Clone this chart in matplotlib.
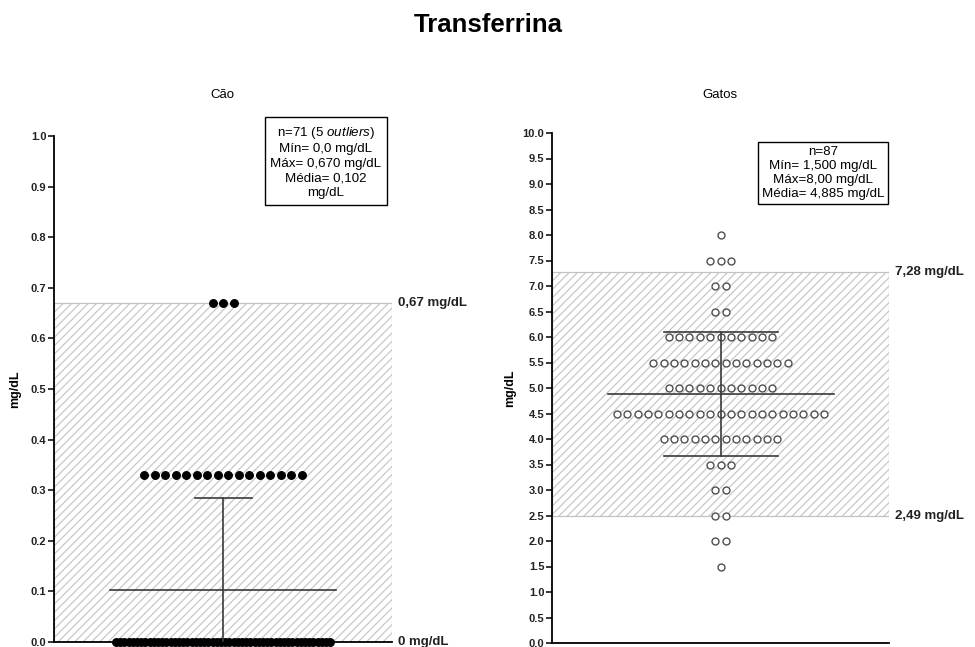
import numpy as np
import matplotlib
matplotlib.use("Agg")
import matplotlib.pyplot as plt

plt.rcParams['font.family'] = ['Liberation Sans', 'DejaVu Sans']
plt.rcParams['mathtext.fontset'] = 'custom'
plt.rcParams['mathtext.it'] = 'Liberation Sans:italic'
plt.rcParams['mathtext.rm'] = 'Liberation Sans'
plt.rcParams['hatch.linewidth'] = 0.8

# ---- data ----
title = "Transferrina"
unit_label = "mg/dL"

dog_name = "Cão"
dog_values = [0.0, 0.33, 0.67]
dog_counts = [52, 16, 3]
dog_ref = [0.0, 0.67]
dog_ref_labels = ["0 mg/dL", "0,67 mg/dL"]
dog_ticks = [round(0.1 * i, 1) for i in range(11)]
dog_box = "n=71 (5 $\\it{outliers}$)\nMín= 0,0 mg/dL\nMáx= 0,670 mg/dL\nMédia= 0,102\nmg/dL"

cat_name = "Gatos"
cat_values = [1.5, 2.0, 2.5, 3.0, 3.5, 4.0, 4.5, 5.0, 5.5, 6.0, 6.5, 7.0, 7.5, 8.0]
cat_counts = [1, 2, 2, 2, 3, 12, 21, 11, 14, 11, 2, 2, 3, 1]
cat_ref = [2.49, 7.28]
cat_ref_labels = ["2,49 mg/dL", "7,28 mg/dL"]
cat_ticks = [0.5 * i for i in range(21)]
cat_box = "n=87\nMín= 1,500 mg/dL\nMáx=8,00 mg/dL\nMédia= 4,885 mg/dL"

W, H = 975, 647
fig = plt.figure(figsize=(W / 100, H / 100), dpi=100)


def ax_at(x0, y0, x1, y1):
    return fig.add_axes([x0 / W, 1 - y1 / H, (x1 - x0) / W, (y1 - y0) / H])


def row_positions(n, step):
    return (np.arange(n) - (n - 1) / 2.0) * step


def panel(ax, values, counts, ref, ref_labels, ticks, ymax, filled,
          steps, cap_half, mean_half, half_w):
    ax.set_xlim(-half_w, half_w)
    ax.set_ylim(0, ymax)
    # reference interval (hatched band)
    ax.axhspan(ref[0], ref[1], facecolor='white', edgecolor='#c2c2c2',
               hatch='////', linewidth=0.9, zorder=0)
    # individual points
    data = np.repeat(values, counts)
    for v, c, st in zip(values, counts, steps):
        xs = row_positions(c, st)
        ys = np.full(c, v)
        if filled:
            ax.plot(xs, ys, 'o', ms=5.6, mfc='black', mec='black', mew=0.8,
                    clip_on=False, zorder=3, ls='none')
        else:
            ax.plot(xs, ys, 'o', ms=5.0, mfc='white', mec='#505050', mew=1.0,
                    clip_on=False, zorder=3, ls='none')
    # mean and SD
    m = data.mean()
    sd = data.std(ddof=1)
    lo = max(m - sd, 0)
    hi = m + sd
    lc = '#3a3a3a'
    ax.plot([-mean_half, mean_half], [m, m], color=lc, lw=1.2, zorder=4)
    ax.plot([0, 0], [lo, hi], color=lc, lw=1.2, zorder=4)
    ax.plot([-cap_half, cap_half], [hi, hi], color=lc, lw=1.2, zorder=4)
    if m - sd > 0:
        ax.plot([-cap_half, cap_half], [lo, lo], color=lc, lw=1.2, zorder=4)
    # axes styling
    for s in ('top', 'right'):
        ax.spines[s].set_visible(False)
    for s in ('left', 'bottom'):
        ax.spines[s].set_linewidth(1.3)
        ax.spines[s].set_color('black')
    ax.set_xticks([])
    ax.set_yticks(ticks)
    ax.set_yticklabels([f"{t:.1f}" for t in ticks], fontsize=8,
                       fontweight='bold', color='#222222')
    ax.tick_params(axis='y', length=4, width=1.1, pad=1.5)
    ax.set_facecolor('none')
    # reference labels
    for r, lab in zip(ref, ref_labels):
        ax.text(1.018, r, lab, transform=ax.get_yaxis_transform(),
                fontsize=9.5, fontweight='bold', va='center', ha='left',
                color='#222222')


# dog panel
ax1 = ax_at(54, 136, 392, 642)
panel(ax1, dog_values, dog_counts, dog_ref, dog_ref_labels, dog_ticks, 1.0,
      True, [4.2, 10.5, 10.5], 28.5, 113, 169)
ax1.set_ylabel(unit_label, fontsize=9, fontweight='bold', labelpad=7)
fig.text(222 / W, 1 - 95 / H, dog_name, ha='center', va='center', fontsize=9.5)
fig.text(326 / W, 1 - 162 / H, dog_box, ha='center', va='center', fontsize=9.6,
         linespacing=1.3,
         bbox=dict(boxstyle='square,pad=0.4', fc='white', ec='black', lw=1.0))

# cat panel
ax2 = ax_at(552, 133, 889, 643)
panel(ax2, cat_values, cat_counts, cat_ref, cat_ref_labels, cat_ticks, 10.0,
      False, [10.35] * len(cat_values), 57, 113, 168.5)
ax2.set_ylabel(unit_label, fontsize=9, fontweight='bold', labelpad=5)
fig.text(720 / W, 1 - 95 / H, cat_name, ha='center', va='center', fontsize=9.5)
fig.text(823 / W, 1 - 173 / H, cat_box, ha='center', va='center', fontsize=9.6,
         linespacing=1.2,
         bbox=dict(boxstyle='square,pad=0.3', fc='white', ec='black', lw=1.0))

fig.text(488 / W, 1 - 25 / H, title, ha='center', va='center', fontsize=18.5,
         fontweight='bold')

fig.savefig("out.png", dpi=100)
